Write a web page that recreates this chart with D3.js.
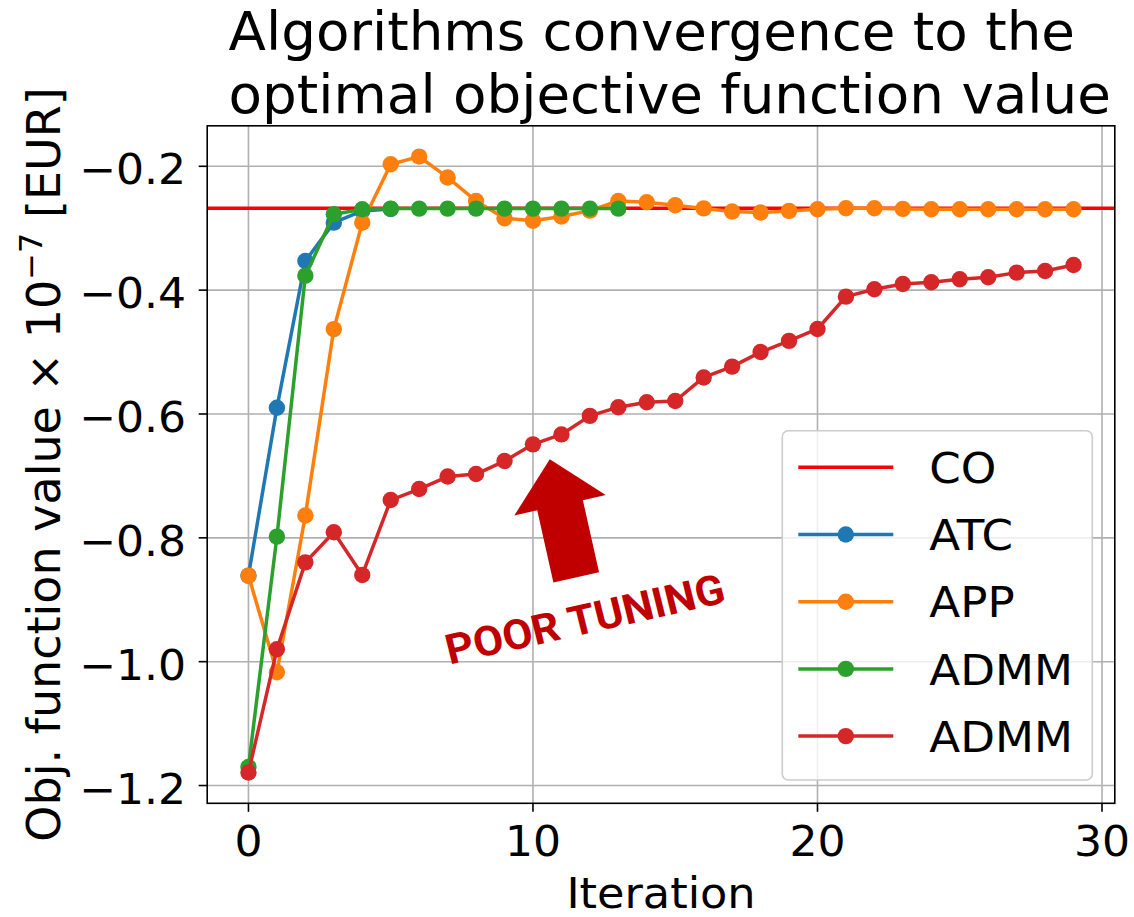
<!DOCTYPE html>
<html>
<head>
<meta charset="utf-8">
<script src="https://cdn.jsdelivr.net/npm/d3@7"></script>
<style>
  html, body { margin: 0; padding: 0; background: #ffffff; }
  svg { display: block; }
  text { font-family: "DejaVu Sans", sans-serif; }
</style>
</head>
<body>
<svg id="chart" width="1134" height="917"></svg>
<script>
// ---------- data ----------
const iterations = d3.range(0, 30);
const coValue = -0.2677;
const atcValues = [-0.861, -0.590, -0.353, -0.291, -0.272, -0.269];
const appValues = [-0.861, -1.017, -0.764, -0.463, -0.291, -0.1966, -0.1843, -0.218, -0.256, -0.284,
                   -0.288, -0.281, -0.2716, -0.256, -0.258, -0.263, -0.268, -0.273, -0.2746, -0.272,
                   -0.2693, -0.2677, -0.2677, -0.2688, -0.2693, -0.2693, -0.2693, -0.2693, -0.2693, -0.2693];
const admmValues = [-1.170, -0.798, -0.3766, -0.2774, -0.2693, -0.2683, -0.2683, -0.2683, -0.2683, -0.2683,
                    -0.2683, -0.2683, -0.2683, -0.2683];
const admmPoorValues = [-1.179, -0.980, -0.8396, -0.7911, -0.860, -0.739, -0.7212, -0.701, -0.697, -0.676,
                        -0.649, -0.633, -0.603, -0.589, -0.581, -0.579, -0.541, -0.5235, -0.500, -0.482,
                        -0.4627, -0.4105, -0.3986, -0.390, -0.3873, -0.3824, -0.3792, -0.3717, -0.369, -0.3593];
const seriesNames = ["CO", "ATC", "APP", "ADMM", "ADMM"];
const seriesColors = ["#ff0000", "#1f77b4", "#ff7f0e", "#2ca02c", "#d62728"];
const xTicks = [0, 10, 20, 30];
const yTicks = [-1.2, -1.0, -0.8, -0.6, -0.4, -0.2];
const titleLines = ["Algorithms convergence to the", "optimal objective function value"];
const xLabel = "Iteration";
const annotationText = "POOR TUNING";
// arrow (data coordinates): base -> tip
const arrowBase = [11.52, -0.864];
const arrowTip = [10.59, -0.673];
const annotationPos = [11.95, -0.954];

// ---------- layout ----------
const svg = d3.select("#chart");
const L = 207.2, R = 1114.8, T = 125.8, B = 803.3;
const x = d3.scaleLinear().domain([-1.45, 30.45]).range([L, R]);
const y = d3.scaleLinear().domain([-1.2287, -0.1346]).range([B, T]);
const FS = 42;
const SX = 1.05; // horizontal stretch of the original rendering

function stretchedText(parent, px, py, size, anchor, str, sx = SX) {
  return parent.append("text")
    .attr("transform", `translate(${px},${py}) scale(${sx},1)`)
    .attr("text-anchor", anchor).attr("font-size", size).attr("fill", "#000").text(str);
}

svg.append("defs").append("clipPath").attr("id", "clip")
  .append("rect").attr("x", L).attr("y", T).attr("width", R - L).attr("height", B - T);

// grid
const grid = svg.append("g");
grid.selectAll("line.gx").data(xTicks).join("line")
  .attr("x1", d => x(d)).attr("x2", d => x(d)).attr("y1", T).attr("y2", B)
  .attr("stroke", "#b0b0b0").attr("stroke-width", 1.6);
grid.selectAll("line.gy").data(yTicks).join("line")
  .attr("y1", d => y(d)).attr("y2", d => y(d)).attr("x1", L).attr("x2", R)
  .attr("stroke", "#b0b0b0").attr("stroke-width", 1.6);

// data
const plot = svg.append("g").attr("clip-path", "url(#clip)");
plot.append("line").attr("x1", L).attr("x2", R).attr("y1", y(coValue)).attr("y2", y(coValue))
  .attr("stroke", seriesColors[0]).attr("stroke-width", 3.5);

const lineGen = d3.line().x((d, i) => x(iterations[i])).y(d => y(d));
const seriesList = [atcValues, appValues, admmValues, admmPoorValues];
seriesList.forEach((vals, k) => {
  const c = seriesColors[k + 1];
  const g = plot.append("g");
  g.append("path").attr("d", lineGen(vals)).attr("fill", "none")
    .attr("stroke", c).attr("stroke-width", 3.5).attr("stroke-linejoin", "round");
  g.selectAll("circle").data(vals).join("circle")
    .attr("cx", (d, i) => x(iterations[i])).attr("cy", d => y(d)).attr("r", 8.2).attr("fill", c);
});

// arrow annotation
(function () {
  const bx = x(arrowBase[0]), by = y(arrowBase[1]);
  const tx = x(arrowTip[0]), ty = y(arrowTip[1]);
  const dx = tx - bx, dy = ty - by, len = Math.hypot(dx, dy);
  const ux = dx / len, uy = dy / len, px = -uy, py = ux;
  const shaftW = 46.8, headW = 93.7, headL = 47.2;
  const hx = tx - ux * headL, hy = ty - uy * headL;
  const pts = [
    [bx + px * shaftW / 2, by + py * shaftW / 2],
    [hx + px * shaftW / 2, hy + py * shaftW / 2],
    [hx + px * headW / 2, hy + py * headW / 2],
    [tx, ty],
    [hx - px * headW / 2, hy - py * headW / 2],
    [hx - px * shaftW / 2, hy - py * shaftW / 2],
    [bx - px * shaftW / 2, by - py * shaftW / 2]
  ];
  svg.append("polygon").attr("points", pts.map(p => p.join(",")).join(" ")).attr("fill", "#c00000");
  svg.append("text")
    .attr("transform", `translate(${x(annotationPos[0])},${y(annotationPos[1])}) scale(${SX},1) rotate(-13.3)`)
    .attr("text-anchor", "middle")
    .style("font-family", "Roboto, sans-serif").style("font-weight", "bold")
    .attr("font-size", 41.5).attr("fill", "#c00000")
    .text(annotationText);
})();

// spines
svg.append("rect").attr("x", L).attr("y", T).attr("width", R - L).attr("height", B - T)
  .attr("fill", "none").attr("stroke", "#000").attr("stroke-width", 1.6);

// ticks
svg.selectAll("line.tx").data(xTicks).join("line")
  .attr("x1", d => x(d)).attr("x2", d => x(d)).attr("y1", B).attr("y2", B + 8.5)
  .attr("stroke", "#000").attr("stroke-width", 1.6);
xTicks.forEach(d => stretchedText(svg, x(d), 855.5, FS, "middle", d));
svg.selectAll("line.ty").data(yTicks).join("line")
  .attr("x1", L - 8.5).attr("x2", L).attr("y1", d => y(d)).attr("y2", d => y(d))
  .attr("stroke", "#000").attr("stroke-width", 1.6);
const fmt = d3.format(".1f");
yTicks.forEach(d => stretchedText(svg, 186, y(d) + 18, FS, "end", fmt(d)));

// axis labels
stretchedText(svg, (L + R) / 2, 908, 42.5, "middle", xLabel);
const yl = svg.append("text")
  .attr("transform", `translate(60,${(T + B) / 2}) rotate(-90)`)
  .attr("text-anchor", "middle").attr("font-size", 46).attr("fill", "#000");
yl.append("tspan").text("Obj. function value × 10");
yl.append("tspan").attr("font-size", 32).attr("dy", -18).text("−7");
yl.append("tspan").attr("dy", 18).text(" [EUR]");

// title (left-aligned block)
titleLines.forEach((t, i) => stretchedText(svg, 228.6, 50 + i * 62.7, 52.5, "start", t, 1.043));

// legend
const lg = svg.append("g");
lg.append("rect").attr("x", 782.3).attr("y", 430.7).attr("width", 310).attr("height", 349.3)
  .attr("rx", 6).attr("fill", "#ffffff").attr("fill-opacity", 0.8)
  .attr("stroke", "#cccccc").attr("stroke-width", 1.6);
seriesNames.forEach((name, i) => {
  const ry = 467.3 + i * 67.2;
  lg.append("line").attr("x1", 798.3).attr("x2", 893.3).attr("y1", ry).attr("y2", ry)
    .attr("stroke", seriesColors[i]).attr("stroke-width", 3.5);
  if (i > 0) lg.append("circle").attr("cx", 845.8).attr("cy", ry).attr("r", 8.2).attr("fill", seriesColors[i]);
  stretchedText(lg, 929.3, ry + 15.7, 43, "start", name);
});
</script>
</body>
</html>
